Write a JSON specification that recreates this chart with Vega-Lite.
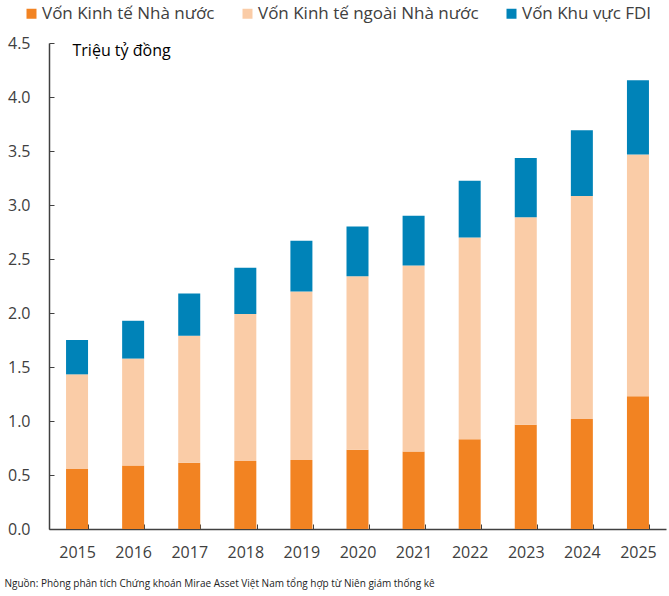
{
  "$schema": "https://vega.github.io/schema/vega-lite/v6.json",
  "width": 617,
  "height": 486,
  "autosize": "none",
  "padding": {"left": 49, "top": 43, "right": 3, "bottom": 67},
  "background": "white",
  "config": {"view": {"stroke": null}, "font": "Open Sans"},
  "data": {
    "values": [
      {"year": "2015", "type": "Vốn Kinh tế Nhà nước", "o": 1, "v": 0.556},
      {"year": "2015", "type": "Vốn Kinh tế ngoài Nhà nước", "o": 2, "v": 0.876},
      {"year": "2015", "type": "Vốn Khu vực FDI", "o": 3, "v": 0.318},
      {"year": "2016", "type": "Vốn Kinh tế Nhà nước", "o": 1, "v": 0.587},
      {"year": "2016", "type": "Vốn Kinh tế ngoài Nhà nước", "o": 2, "v": 0.991},
      {"year": "2016", "type": "Vốn Khu vực FDI", "o": 3, "v": 0.35},
      {"year": "2017", "type": "Vốn Kinh tế Nhà nước", "o": 1, "v": 0.614},
      {"year": "2017", "type": "Vốn Kinh tế ngoài Nhà nước", "o": 2, "v": 1.176},
      {"year": "2017", "type": "Vốn Khu vực FDI", "o": 3, "v": 0.39},
      {"year": "2018", "type": "Vốn Kinh tế Nhà nước", "o": 1, "v": 0.63},
      {"year": "2018", "type": "Vốn Kinh tế ngoài Nhà nước", "o": 2, "v": 1.36},
      {"year": "2018", "type": "Vốn Khu vực FDI", "o": 3, "v": 0.43},
      {"year": "2019", "type": "Vốn Kinh tế Nhà nước", "o": 1, "v": 0.64},
      {"year": "2019", "type": "Vốn Kinh tế ngoài Nhà nước", "o": 2, "v": 1.56},
      {"year": "2019", "type": "Vốn Khu vực FDI", "o": 3, "v": 0.47},
      {"year": "2020", "type": "Vốn Kinh tế Nhà nước", "o": 1, "v": 0.734},
      {"year": "2020", "type": "Vốn Kinh tế ngoài Nhà nước", "o": 2, "v": 1.606},
      {"year": "2020", "type": "Vốn Khu vực FDI", "o": 3, "v": 0.46},
      {"year": "2021", "type": "Vốn Kinh tế Nhà nước", "o": 1, "v": 0.718},
      {"year": "2021", "type": "Vốn Kinh tế ngoài Nhà nước", "o": 2, "v": 1.722},
      {"year": "2021", "type": "Vốn Khu vực FDI", "o": 3, "v": 0.46},
      {"year": "2022", "type": "Vốn Kinh tế Nhà nước", "o": 1, "v": 0.83},
      {"year": "2022", "type": "Vốn Kinh tế ngoài Nhà nước", "o": 2, "v": 1.87},
      {"year": "2022", "type": "Vốn Khu vực FDI", "o": 3, "v": 0.524},
      {"year": "2023", "type": "Vốn Kinh tế Nhà nước", "o": 1, "v": 0.966},
      {"year": "2023", "type": "Vốn Kinh tế ngoài Nhà nước", "o": 2, "v": 1.921},
      {"year": "2023", "type": "Vốn Khu vực FDI", "o": 3, "v": 0.549},
      {"year": "2024", "type": "Vốn Kinh tế Nhà nước", "o": 1, "v": 1.018},
      {"year": "2024", "type": "Vốn Kinh tế ngoài Nhà nước", "o": 2, "v": 2.066},
      {"year": "2024", "type": "Vốn Khu vực FDI", "o": 3, "v": 0.609},
      {"year": "2025", "type": "Vốn Kinh tế Nhà nước", "o": 1, "v": 1.23},
      {"year": "2025", "type": "Vốn Kinh tế ngoài Nhà nước", "o": 2, "v": 2.238},
      {"year": "2025", "type": "Vốn Khu vực FDI", "o": 3, "v": 0.686}
    ]
  },
  "mark": {"type": "bar", "width": 22},
  "encoding": {
    "x": {
      "field": "year",
      "type": "ordinal",
      "scale": {"paddingInner": 0.6, "paddingOuter": 0.3},
      "axis": {
        "labelAngle": 0,
        "labelFontSize": 16,
        "labelColor": "#404040",
        "labelPadding": 20,
        "tickBand": "extent",
        "tickSize": -5,
        "tickColor": "#404040",
        "domainColor": "#404040",
        "domainWidth": 1.5,
        "title": "Nguồn: Phòng phân tích Chứng khoán Mirae Asset Việt Nam tổng hợp từ Niên giám thống kê",
        "titleFontSize": 10,
        "titleFontWeight": "normal",
        "titleColor": "#222222",
        "titleAlign": "left",
        "titleBaseline": "middle",
        "titleX": -45,
        "titleY": 54
      }
    },
    "y": {
      "field": "v",
      "type": "quantitative",
      "stack": "zero",
      "scale": {"domain": [0, 4.5], "nice": false},
      "axis": {
        "values": [0, 0.5, 1, 1.5, 2, 2.5, 3, 3.5, 4, 4.5],
        "format": ".1f",
        "grid": false,
        "labelFontSize": 16,
        "labelColor": "#404040",
        "labelPadding": 24,
        "tickSize": -5,
        "tickColor": "#404040",
        "domainColor": "#404040",
        "domainWidth": 1.5,
        "title": "Triệu tỷ đồng",
        "titleAngle": 0,
        "titleFontSize": 16,
        "titleFontWeight": "normal",
        "titleColor": "#000000",
        "titleAlign": "left",
        "titleBaseline": "middle",
        "titleX": 23,
        "titleY": 7
      }
    },
    "color": {
      "field": "type",
      "type": "nominal",
      "sort": ["Vốn Kinh tế Nhà nước", "Vốn Kinh tế ngoài Nhà nước", "Vốn Khu vực FDI"],
      "scale": {
        "domain": ["Vốn Kinh tế Nhà nước", "Vốn Kinh tế ngoài Nhà nước", "Vốn Khu vực FDI"],
        "range": ["#F28322", "#FACCA7", "#0083B8"]
      },
      "legend": {
        "title": null,
        "orient": "none",
        "direction": "horizontal",
        "legendX": -26,
        "legendY": -38,
        "symbolType": "square",
        "symbolSize": 100,
        "symbolStrokeWidth": 0,
        "labelFontSize": 17,
        "labelColor": "#404040",
        "labelOffset": 2,
        "columnPadding": 24,
        "labelLimit": 400
      }
    },
    "order": {"field": "o", "type": "quantitative"}
  }
}
